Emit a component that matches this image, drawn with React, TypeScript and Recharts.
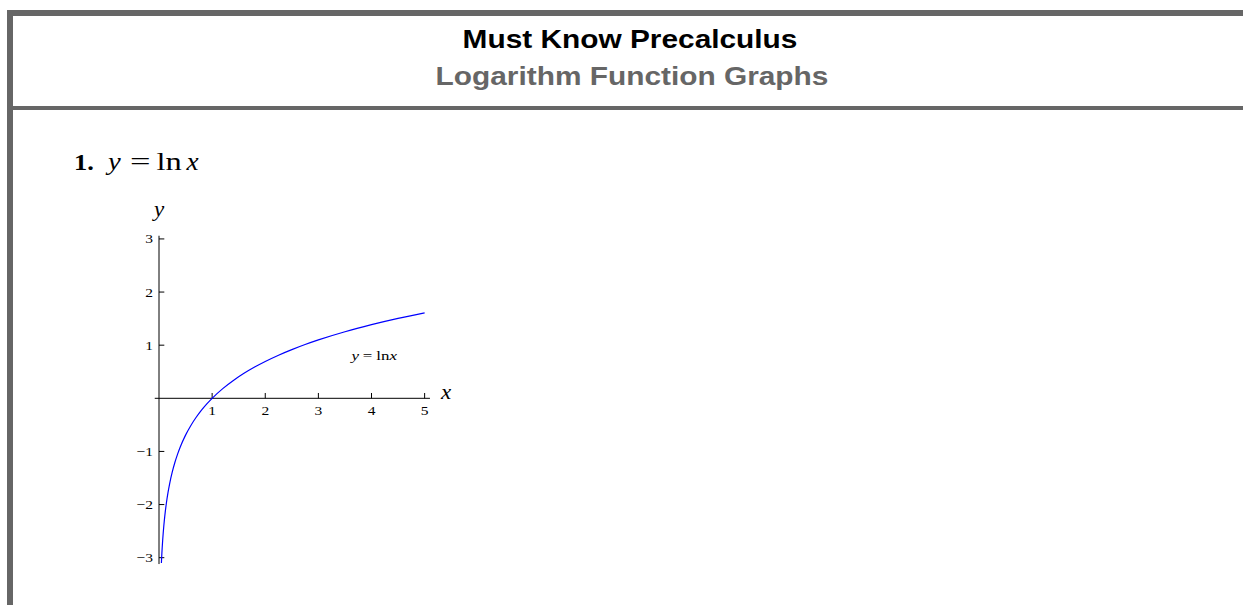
import React from "react";
import {
  LineChart,
  Line,
  XAxis,
  YAxis,
  ReferenceLine,
  ReferenceDot,
} from "recharts";

// Sample points of y = ln x
const xValues = [
  0.045, 0.05, 0.055, 0.06, 0.07, 0.08, 0.09, 0.1, 0.12, 0.14, 0.17, 0.2, 0.25,
  0.3, 0.35, 0.4, 0.5, 0.6, 0.7, 0.8, 0.9, 1, 1.2, 1.4, 1.6, 1.8, 2, 2.25, 2.5,
  2.75, 3, 3.5, 4, 4.5, 5,
];
const yValues = [
  -3.101, -2.996, -2.9, -2.813, -2.659, -2.526, -2.408, -2.303, -2.12, -1.966,
  -1.772, -1.609, -1.386, -1.204, -1.05, -0.916, -0.693, -0.511, -0.357, -0.223,
  -0.105, 0, 0.182, 0.336, 0.47, 0.588, 0.693, 0.811, 0.916, 1.012, 1.099,
  1.253, 1.386, 1.504, 1.609,
];

const xTicks = [1, 2, 3, 4, 5];
const yTicks = [-3, -2, -1, 1, 2, 3];

const xDomain: [number, number] = [-0.2, 5.2];
const yDomain: [number, number] = [-3.2, 3.2];
const xAxisExtent: [number, number] = [-0.08, 5.1];
const yAxisExtent: [number, number] = [-3.12, 3.06];
const tickLen = 0.1;

const curveLabelAt = { x: 4.05, y: 0.8 };

const data = xValues.map((x, i) => ({ x, y: yValues[i] }));

const SERIF = "'Liberation Serif', 'DejaVu Serif', serif";
const SANS = "'Liberation Sans', Arial, sans-serif";
const WIDE = 1.15;

const fmt = (v: number) => (v < 0 ? `\u2212${Math.abs(v)}` : `${v}`);

// Tick label below a point on the x axis
const XTickText = (props: any) => {
  const { viewBox, value } = props;
  return (
    <text
      transform={`translate(${viewBox.x},${viewBox.y + 17}) scale(${WIDE},1)`}
      textAnchor="middle"
      fontFamily={SERIF}
      fontSize={13.5}
      fill="#000"
    >
      {value}
    </text>
  );
};

// Tick label to the left of a point on the y axis
const YTickText = (props: any) => {
  const { viewBox, value } = props;
  return (
    <text
      transform={`translate(${viewBox.x - 6},${viewBox.y + 4.5}) scale(${WIDE},1)`}
      textAnchor="end"
      fontFamily={SERIF}
      fontSize={13.5}
      fill="#000"
    >
      {value}
    </text>
  );
};

const XName = (props: any) => {
  const { viewBox } = props;
  return (
    <text
      transform={`translate(${viewBox.x + 11},${viewBox.y + 1}) scale(${WIDE},1)`}
      fontFamily={SERIF}
      fontStyle="italic"
      fontSize={20}
      fill="#000"
    >
      x
    </text>
  );
};

const YName = (props: any) => {
  const { viewBox } = props;
  return (
    <text
      transform={`translate(${viewBox.x},${viewBox.y - 20}) scale(${WIDE},1)`}
      textAnchor="middle"
      fontFamily={SERIF}
      fontStyle="italic"
      fontSize={20}
      fill="#000"
    >
      y
    </text>
  );
};

const CurveName = (props: any) => {
  const { viewBox } = props;
  return (
    <text
      transform={`translate(${viewBox.x},${viewBox.y + 4}) scale(1.3,1)`}
      textAnchor="middle"
      fontFamily={SERIF}
      fontSize={13}
      fill="#000"
    >
      <tspan fontStyle="italic">y</tspan>
      <tspan dx={3}>=</tspan>
      <tspan dx={3}>ln</tspan>
      <tspan fontStyle="italic">x</tspan>
    </text>
  );
};

function Header() {
  return (
    <svg
      width={1243}
      height={605}
      style={{ position: "absolute", left: 0, top: 0, pointerEvents: "none" }}
    >
      <rect x={7} y={10} width={1236} height={6} fill="#666" />
      <rect x={7} y={10} width={6} height={595} fill="#666" />
      <rect x={13} y={106} width={1230} height={4} fill="#666" />
      <text
        transform="translate(630,47.5) scale(1.17,1)"
        textAnchor="middle"
        fontFamily={SANS}
        fontWeight="bold"
        fontSize={25.5}
        fill="#000"
      >
        Must Know Precalculus
      </text>
      <text
        transform="translate(632,84.5) scale(1.17,1)"
        textAnchor="middle"
        fontFamily={SANS}
        fontWeight="bold"
        fontSize={25.5}
        fill="#666"
      >
        Logarithm Function Graphs
      </text>
      <g fontFamily={SERIF} fill="#000">
        <text
          transform="translate(74,170) scale(1.1,1)"
          fontWeight="bold"
          fontSize={24}
        >
          1.
        </text>
        <text
          transform="translate(108,170) scale(1.1,1)"
          fontStyle="italic"
          fontSize={26}
        >
          y
        </text>
        <text transform="translate(130,170) scale(1.4,1)" fontSize={26}>
          =
        </text>
        <text transform="translate(156.5,170) scale(1.25,1)" fontSize={26}>
          ln
        </text>
        <text
          transform="translate(186.5,170) scale(1.05,1)"
          fontStyle="italic"
          fontSize={26}
        >
          x
        </text>
      </g>
    </svg>
  );
}

export default function App() {
  return (
    <div
      style={{
        position: "absolute",
        left: 0,
        top: 0,
        width: 1243,
        height: 605,
        background: "#fff",
        overflow: "hidden",
      }}
    >
      <div style={{ position: "absolute", left: 0, top: 0 }}>
        <LineChart
          width={600}
          height={600}
          data={data}
          margin={{ top: 228.3, left: 148.375, right: 164.75, bottom: 31.7 }}
        >
          <XAxis
            dataKey="x"
            type="number"
            domain={xDomain}
            allowDataOverflow
            hide
          />
          <YAxis type="number" domain={yDomain} allowDataOverflow hide />

          {/* axes through the origin */}
          <ReferenceLine
            segment={[
              { x: xAxisExtent[0], y: 0 },
              { x: xAxisExtent[1], y: 0 },
            ]}
            stroke="#000"
            strokeWidth={1}
          />
          <ReferenceLine
            segment={[
              { x: 0, y: yAxisExtent[0] },
              { x: 0, y: yAxisExtent[1] },
            ]}
            stroke="#000"
            strokeWidth={1}
          />

          {/* tick marks */}
          {xTicks.map((t) => (
            <ReferenceLine
              key={`xt${t}`}
              segment={[
                { x: t, y: 0 },
                { x: t, y: tickLen },
              ]}
              stroke="#000"
              strokeWidth={1}
            />
          ))}
          {yTicks.map((t) => (
            <ReferenceLine
              key={`yt${t}`}
              segment={[
                { x: 0, y: t },
                { x: tickLen, y: t },
              ]}
              stroke="#000"
              strokeWidth={1}
            />
          ))}

          {/* tick labels */}
          {xTicks.map((t) => (
            <ReferenceDot
              key={`xl${t}`}
              x={t}
              y={0}
              r={0}
              fill="none"
              stroke="none"
              label={<XTickText value={fmt(t)} />}
            />
          ))}
          {yTicks.map((t) => (
            <ReferenceDot
              key={`yl${t}`}
              x={0}
              y={t}
              r={0}
              fill="none"
              stroke="none"
              label={<YTickText value={fmt(t)} />}
            />
          ))}

          {/* axis names */}
          <ReferenceDot
            x={xAxisExtent[1]}
            y={0}
            r={0}
            fill="none"
            stroke="none"
            label={<XName />}
          />
          <ReferenceDot
            x={0}
            y={yAxisExtent[1]}
            r={0}
            fill="none"
            stroke="none"
            label={<YName />}
          />

          <Line
            dataKey="y"
            type="monotone"
            stroke="#0000ff"
            strokeWidth={1.2}
            dot={false}
            activeDot={false}
            isAnimationActive={false}
          />

          <ReferenceDot
            x={curveLabelAt.x}
            y={curveLabelAt.y}
            r={0}
            fill="none"
            stroke="none"
            label={<CurveName />}
          />
        </LineChart>
      </div>
      <Header />
    </div>
  );
}
